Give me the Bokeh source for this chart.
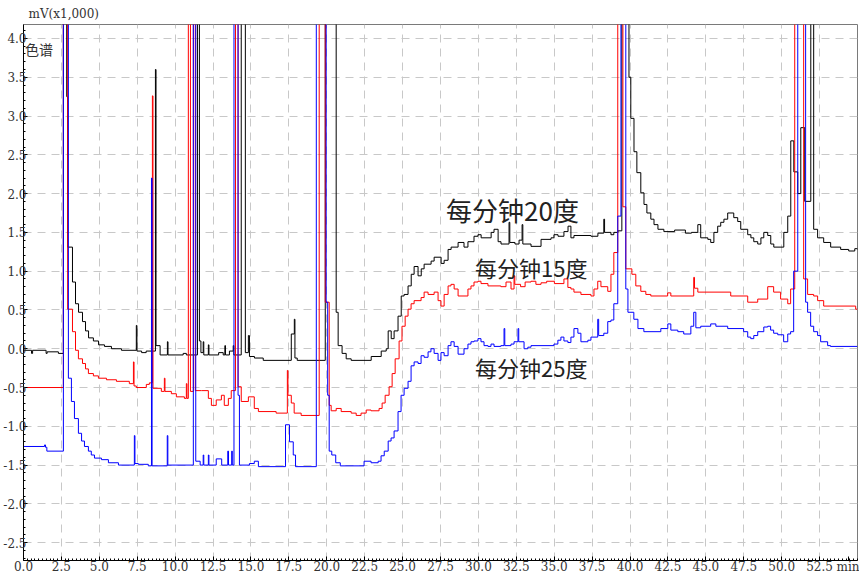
from bokeh.plotting import figure
from bokeh.models import FixedTicker, PrintfTickFormatter, Label
from bokeh.embed import file_html
from bokeh.resources import INLINE

# ---- data (time in min, signal in mV x1,000) ----
t_black = [0.00, 0.53, 0.60, 1.49, 1.56, 2.30, 2.63, 2.85, 2.91, 3.23, 3.43, 3.63, 3.89, 4.09, 4.29, 4.61, 4.95, 5.34, 5.80, 6.46,
           7.44, 7.48, 7.79, 8.09, 8.70, 8.74, 9.01, 9.49, 9.53, 10.53, 10.74, 11.47, 11.60, 11.70, 11.85, 11.89, 12.19, 12.23,
           12.87, 13.17, 13.28, 13.32, 13.58, 13.83, 13.87, 14.36, 14.63, 14.83, 14.90, 15.23, 15.81, 17.66, 17.86, 17.90, 18.05,
           19.90, 20.62, 20.75, 21.01, 21.28, 21.61, 22.93, 23.59, 23.92, 24.05, 24.25, 24.44, 24.70, 24.91, 25.10, 25.36, 25.57,
           25.76, 26.02, 26.23, 26.42, 26.88, 27.08, 27.54, 27.74, 28.00, 28.20, 28.66, 29.05, 29.31, 29.71, 29.97, 30.18, 30.84,
           31.03, 31.30, 31.49, 32.02, 32.07, 32.41, 32.68, 32.88, 32.93, 33.47, 34.13, 34.79, 34.98, 35.25, 35.64, 35.91, 36.10,
           36.30, 37.42, 37.88, 38.27, 38.32, 38.74, 38.93, 39.20, 39.46, 39.93, 40.05, 40.26, 40.45, 40.71, 40.92, 41.11, 41.37,
           41.58, 41.84, 42.23, 42.94, 43.65, 44.05, 44.47, 44.66, 45.13, 45.32, 45.53, 45.78, 45.98, 46.19, 46.44, 46.84, 47.10,
           47.30, 47.76, 47.97, 48.16, 48.42, 48.63, 48.82, 49.08, 49.28, 49.48, 50.14, 50.40, 50.60, 50.80, 51.06, 51.26, 51.52,
           51.92, 52.11, 52.37, 52.77, 53.23, 53.89, 54.42, 54.82, 55.00]
v_black = [-0.02, -0.06, -0.02, -0.06, -0.04, -0.06, 5.00, 3.25, 1.31, 0.86, 0.58, 0.47, 0.35, 0.23, 0.14, 0.10, 0.05, 0.03, 0.00, -0.02,
           0.30, -0.03, -0.05, -0.03, 3.60, 0.04, -0.08, 0.09, -0.08, -0.06, -0.08, 5.00, 0.10, -0.05, 0.09, -0.08, 0.05, -0.08,
           -0.05, -0.08, 0.04, -0.08, -0.03, 0.04, -0.08, 5.00, -0.05, 0.17, -0.10, -0.12, -0.15, 0.19, 0.38, -0.12, -0.15,
           5.00, 0.47, 0.04, -0.06, -0.13, -0.15, -0.10, -0.03, 0.00, 0.23, 0.13, 0.23, 0.42, 0.68, 0.70, 0.81, 0.96,
           1.06, 0.94, 1.03, 1.09, 1.13, 1.18, 1.10, 1.14, 1.28, 1.31, 1.37, 1.31, 1.38, 1.45, 1.47, 1.43, 1.50,
           1.54, 1.38, 1.35, 1.63, 1.37, 1.35, 1.40, 1.60, 1.35, 1.32, 1.41, 1.43, 1.47, 1.45, 1.51, 1.58, 1.43,
           1.46, 1.45, 1.49, 1.67, 1.50, 1.47, 1.50, 1.52, 5.00, 3.50, 2.97, 2.54, 2.27, 2.01, 1.86, 1.75, 1.67,
           1.60, 1.54, 1.51, 1.53, 1.49, 1.50, 1.60, 1.43, 1.41, 1.37, 1.50, 1.58, 1.63, 1.67, 1.75, 1.69, 1.64,
           1.54, 1.47, 1.43, 1.38, 1.35, 1.43, 1.50, 1.46, 1.35, 1.31, 1.50, 1.71, 2.68, 2.28, 2.00, 2.85, 1.90,
           5.00, 1.54, 1.43, 1.37, 1.31, 1.28, 1.26, 1.29, 1.28]

t_red = [0.00, 2.63, 2.91, 3.23, 3.43, 3.62, 3.89, 4.09, 4.28, 4.61, 4.94, 5.47, 6.13, 6.98, 7.25, 7.29, 7.44, 8.10, 8.30, 8.50, 8.54,
         9.09, 9.29, 9.33, 9.75, 10.08, 10.61, 10.74, 10.78, 10.87, 11.01, 11.20, 11.33, 11.73, 12.19, 12.39, 12.71, 13.05, 13.24,
         13.51, 13.70, 13.98, 14.15, 14.36, 14.83, 15.22, 15.49, 16.66, 17.40, 17.44, 17.66, 17.85, 18.31, 19.50, 19.90, 20.16,
         20.29, 20.62, 20.95, 21.61, 21.94, 22.26, 22.60, 22.92, 23.45, 23.65, 23.85, 24.11, 24.31, 24.51, 24.77, 24.96, 25.17,
         25.36, 25.56, 25.76, 26.22, 26.42, 26.68, 27.08, 27.34, 27.53, 27.74, 28.00, 28.19, 28.40, 28.66, 29.31, 29.51, 29.71,
         29.97, 30.17, 30.63, 31.48, 31.82, 32.15, 32.35, 32.40, 32.78, 33.08, 33.47, 33.79, 34.13, 34.50, 35.01, 35.64, 35.90,
         36.10, 36.30, 36.76, 37.42, 37.62, 37.87, 38.08, 38.53, 38.74, 38.93, 39.19, 39.53, 39.72, 40.12, 40.38, 40.71, 41.04,
         41.37, 42.48, 42.69, 44.20, 44.25, 44.47, 46.64, 47.76, 48.42, 49.08, 49.47, 49.93, 50.40, 50.59, 50.86, 51.45, 51.71,
         52.11, 52.37, 52.77, 54.88, 55.00]
v_red = [-0.50, 5.00, 0.51, 0.22, -0.02, -0.13, -0.19, -0.26, -0.32, -0.35, -0.38, -0.40, -0.42, -0.45, -0.17, -0.48, -0.50, -0.46, -0.44, 3.26, -0.51,
         -0.55, -0.38, -0.55, -0.58, -0.62, -0.64, -0.45, -0.64, 5.00, -0.55, 5.00, -0.54, -0.54, -0.64, -0.73, -0.66, -0.60, -0.73,
         -0.64, -0.54, 5.00, -0.49, -0.68, -0.62, -0.77, -0.81, -0.83, -0.28, -0.60, -0.70, -0.83, -0.86, 5.00, 0.60, -0.73,
         -0.80, -0.77, -0.81, -0.83, -0.86, -0.83, -0.79, -0.80, -0.77, -0.70, -0.60, -0.49, -0.32, -0.13, 0.10, 0.29, 0.42,
         0.51, 0.58, 0.62, 0.66, 0.73, 0.70, 0.73, 0.62, 0.55, 0.70, 0.81, 0.83, 0.77, 0.68, 0.77, 0.81, 0.86,
         0.87, 0.84, 0.81, 0.80, 0.86, 0.77, 0.94, 0.83, 0.80, 0.86, 0.87, 0.83, 0.85, 0.87, 0.84, 0.90, 0.79,
         0.77, 0.73, 0.70, 0.68, 0.77, 0.87, 0.80, 0.74, 0.96, 1.24, 5.00, 1.83, 1.03, 0.96, 0.81, 0.74, 0.70,
         0.68, 0.72, 0.68, 0.92, 0.78, 0.73, 0.68, 0.60, 0.64, 0.80, 0.73, 0.64, 0.58, 0.77, 5.00, 0.90, 0.70,
         0.68, 0.62, 0.55, 0.51, 0.51]

t_blue = [0.00, 1.39, 1.45, 1.54, 2.63, 2.96, 3.16, 3.36, 3.62, 3.83, 4.02, 4.28, 4.47, 4.68, 5.14, 5.60, 6.26, 7.31, 7.35, 7.57, 8.23,
          8.44, 8.48, 9.48, 9.52, 11.20, 11.36, 11.65, 11.85, 11.89, 12.19, 12.23, 12.71, 13.07, 13.47, 13.52, 13.73, 13.77, 13.88,
          14.15, 14.24, 14.90, 15.22, 15.49, 17.28, 17.54, 17.79, 17.94, 19.31, 19.96, 20.06, 20.16, 20.33, 20.59, 20.89, 22.46,
          22.92, 23.39, 23.58, 23.79, 24.05, 24.24, 24.44, 24.70, 24.90, 25.10, 25.36, 25.56, 25.76, 26.02, 26.22, 26.42, 26.68,
          26.87, 27.08, 27.34, 27.53, 27.74, 28.00, 28.19, 28.40, 28.66, 29.05, 29.31, 29.51, 29.71, 29.97, 30.17, 30.37, 30.63,
          30.83, 31.03, 31.48, 31.69, 31.74, 32.15, 32.35, 32.61, 32.66, 33.01, 33.26, 33.47, 34.98, 35.24, 35.44, 35.64, 35.90,
          36.10, 36.30, 36.56, 36.76, 37.22, 37.42, 37.87, 37.93, 38.27, 38.53, 38.74, 38.93, 39.19, 39.40, 39.72, 39.86, 40.25,
          40.52, 40.91, 42.03, 42.49, 42.69, 43.15, 43.54, 44.01, 44.20, 44.34, 44.66, 45.32, 45.66, 46.44, 47.49, 47.76, 47.96,
          48.16, 48.42, 48.82, 49.08, 49.27, 49.47, 49.74, 50.13, 50.40, 50.59, 50.79, 51.06, 51.58, 51.71, 51.91, 52.11, 52.37,
          52.57, 53.03, 53.22, 55.00]
v_blue = [-1.26, -1.24, -1.27, -1.32, 5.00, -0.38, -0.68, -0.90, -1.09, -1.19, -1.26, -1.32, -1.37, -1.41, -1.43, -1.47, -1.50, -1.12, -1.48, -1.49, -1.51,
          2.20, -1.51, -1.12, -1.50, 5.00, -1.45, -1.50, -1.37, -1.50, -1.37, -1.50, -1.42, -1.50, -1.32, -1.50, -1.32, -1.50, 5.00,
          -0.60, -1.50, -1.48, -1.45, -1.52, -0.98, -1.20, -1.37, -1.52, 5.00, 0.60, -0.60, -1.32, -1.37, -1.47, -1.51, -1.45,
          -1.47, -1.45, -1.38, -1.32, -1.19, -1.15, -1.06, -0.81, -0.60, -0.51, -0.42, -0.22, -0.17, -0.19, -0.09, -0.11, -0.04,
          0.00, -0.06, -0.15, -0.05, -0.09, 0.04, 0.09, 0.03, -0.07, 0.00, 0.06, 0.09, 0.10, 0.13, 0.09, 0.04, 0.03,
          0.06, 0.03, 0.04, 0.26, 0.04, 0.06, 0.09, 0.26, 0.09, 0.00, 0.02, 0.04, 0.06, 0.11, 0.15, 0.10, 0.08,
          0.15, 0.26, 0.20, 0.09, 0.11, 0.15, 0.38, 0.17, 0.20, 0.35, 0.37, 0.58, 1.71, 5.00, 0.77, 0.47, 0.38,
          0.26, 0.22, 0.26, 0.32, 0.24, 0.22, 0.19, 0.29, 0.47, 0.27, 0.29, 0.32, 0.29, 0.26, 0.22, 0.15, 0.13,
          0.17, 0.22, 0.28, 0.29, 0.24, 0.20, 0.18, 0.09, 0.19, 0.22, 1.00, 5.00, 0.60, 0.47, 0.29, 0.22, 0.17,
          0.09, 0.04, 0.03, 0.03]

x_ticks = [0.0, 2.5, 5.0, 7.5, 10.0, 12.5, 15.0, 17.5, 20.0, 22.5, 25.0, 27.5, 30.0, 32.5, 35.0, 37.5, 40.0, 42.5, 45.0, 47.5, 50.0, 52.5]
y_ticks = [-2.5, -2.0, -1.5, -1.0, -0.5, 0.0, 0.5, 1.0, 1.5, 2.0, 2.5, 3.0, 3.5, 4.0]
x_unit_pos = 54.4
x_unit = "min"
y_unit = "mV(x1,000)"
series_names = ["每分钟20度", "每分钟15度", "每分钟25度"]

SERIF = "DejaVu Serif"

# ---- figure ----
p = figure(width=859, height=576, x_range=(0, 55.0), y_range=(-2.73, 4.18),
           output_backend="svg", toolbar_location=None, title=y_unit,
           min_border_left=22, min_border_right=2, min_border_top=4, min_border_bottom=12)
p.background_fill_color = "white"
p.border_fill_color = "white"
p.outline_line_color = "#7a7a7a"

p.title.text_font = SERIF
p.title.text_font_size = "12px"
p.title.text_font_style = "normal"
p.title.text_color = "#333333"
p.title.offset = 5
p.title.standoff = 8

p.step(t_black, v_black, mode="after", line_color="#000000", line_width=1)
p.step(t_red, v_red, mode="after", line_color="#ff0000", line_width=1)
p.step(t_blue, v_blue, mode="after", line_color="#0000ff", line_width=1)

x_minor = [round(i * 0.25, 2) for i in range(0, 221)]
y_minor = [round(-2.7 + i * 0.1, 1) for i in range(0, 69)]
p.xaxis.ticker = FixedTicker(ticks=x_ticks + [x_unit_pos], minor_ticks=x_minor)
p.yaxis.ticker = FixedTicker(ticks=y_ticks, minor_ticks=y_minor)
p.xaxis.formatter = PrintfTickFormatter(format="%.1f")
p.yaxis.formatter = PrintfTickFormatter(format="%.1f")
p.xaxis.major_label_overrides = {x_unit_pos: x_unit}
for ax in (p.xaxis, p.yaxis):
    ax.axis_line_color = "black"
    ax.major_tick_line_color = "black"
    ax.minor_tick_line_color = "black"
    ax.major_tick_in = 4
    ax.major_tick_out = 0
    ax.minor_tick_in = 2
    ax.minor_tick_out = 0
    ax.major_label_text_font = SERIF
    ax.major_label_text_font_size = "12px"
    ax.major_label_text_color = "#333333"
p.xaxis.major_label_standoff = -1
p.yaxis.major_label_standoff = -3

p.xgrid.ticker = FixedTicker(ticks=x_ticks[1:])
p.ygrid.ticker = FixedTicker(ticks=y_ticks)
for g in (p.xgrid, p.ygrid):
    g.grid_line_color = "#c8c8c8"
    g.grid_line_dash = "8 6"
    g.grid_line_width = 1

# ---- texts ----
p.add_layout(Label(x=27.87, y=1.79, text=series_names[0], text_font="Noto Sans CJK SC",
                   text_font_size="26px", text_color="#222222", text_baseline="middle", text_align="left"))
p.add_layout(Label(x=29.78, y=1.05, text=series_names[1], text_font="Noto Sans CJK SC",
                   text_font_size="22px", text_color="#222222", text_baseline="middle", text_align="left"))
p.add_layout(Label(x=29.78, y=-0.23, text=series_names[2], text_font="Noto Sans CJK SC",
                   text_font_size="22px", text_color="#222222", text_baseline="middle", text_align="left"))
p.add_layout(Label(x=0.1, y=3.86, text="色谱", text_font="Noto Sans CJK SC",
                   text_font_size="14px", text_color="#333333", text_baseline="middle", text_align="left"))

open("out.html", "w").write(file_html(p, INLINE))
